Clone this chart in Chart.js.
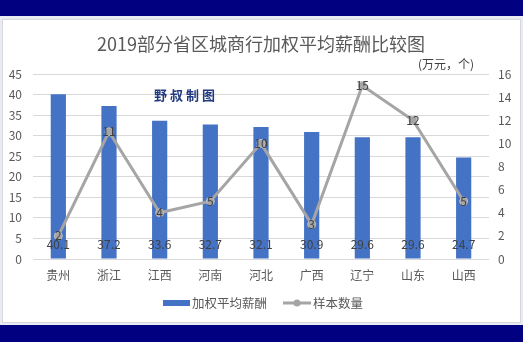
<!DOCTYPE html>
<html>
<head>
<meta charset="utf-8">
<script src="https://cdn.jsdelivr.net/npm/chart.js@4/dist/chart.umd.min.js"></script>
<style>
  html, body { margin: 0; padding: 0; background: #ffffff; }
  #wrap { width: 523px; height: 342px; position: relative; }
  canvas { display: block; }
</style>
</head>
<body>
<div id="wrap"><canvas id="c" width="523" height="342"></canvas></div>
<script>
// Provinces compared
const provinces = ['贵州', '浙江', '江西', '河南', '河北', '广西', '辽宁', '山东', '山西'];
// Weighted average pay (10k yuan)
const avgPay = [40.1, 37.2, 33.6, 32.7, 32.1, 30.9, 29.6, 29.6, 24.7];
// Number of banks sampled
const sampleCount = [2, 11, 4, 5, 10, 3, 15, 12, 5];

const leftTicks = { min: 0, max: 45, step: 5 };
const rightTicks = { min: 0, max: 16, step: 2 };

const titleText = '2019部分省区城商行加权平均薪酬比较图';
const unitText = '(万元，个)';
const creditText = '野叔制图';
const seriesNames = ['加权平均薪酬', '样本数量'];

const FONT = '"Noto Sans CJK SC", "Noto Sans", sans-serif';
const BAR_COLOR = '#4472C4';
const LINE_COLOR = '#A5A5A5';
const TEXT_COLOR = '#595959';
const NAVY = '#000080';

// Page frame: navy bands with a bordered white panel between them
const framePlugin = {
  id: 'frame',
  beforeDraw(chart) {
    const ctx = chart.ctx;
    const W = chart.width, H = chart.height;
    ctx.save();
    ctx.fillStyle = '#E9EBF2';
    ctx.fillRect(0, 0, W, H);
    ctx.fillStyle = NAVY;
    ctx.fillRect(0, 0, W, 16);
    ctx.fillRect(0, 325, W, H - 325);
    ctx.fillStyle = '#ffffff';
    ctx.fillRect(2, 19, W - 4, 304);
    ctx.strokeStyle = '#D6D8DE';
    ctx.lineWidth = 1;
    ctx.strokeRect(2.5, 19.5, W - 5, 303);
    ctx.restore();
  }
};

// Title, unit note, credit, value labels and legend
const textPlugin = {
  id: 'texts',
  afterDatasetsDraw(chart) {
    const ctx = chart.ctx;
    const area = chart.chartArea;
    ctx.save();

    ctx.fillStyle = TEXT_COLOR;
    ctx.textAlign = 'center';
    ctx.textBaseline = 'middle';
    ctx.font = '18px ' + FONT;
    ctx.fillText(titleText, (area.left + area.right) / 2, 44);

    ctx.font = '12px ' + FONT;
    ctx.textAlign = 'right';
    ctx.fillStyle = '#404040';
    ctx.fillText(unitText, 474, 64);

    ctx.textAlign = 'left';
    ctx.fillStyle = '#223A80';
    ctx.font = 'bold 13px ' + FONT;
    if ('letterSpacing' in ctx) ctx.letterSpacing = '3px';
    ctx.fillText(creditText, 154, 95);
    if ('letterSpacing' in ctx) ctx.letterSpacing = '0px';

    // bar value labels near the base of each bar
    ctx.font = '12px ' + FONT;
    ctx.textAlign = 'center';
    ctx.fillStyle = '#404040';
    const barMeta = chart.getDatasetMeta(0);
    barMeta.data.forEach((el, i) => {
      ctx.fillText(avgPay[i].toFixed(1), el.x, el.base - 14);
    });

    // sample-count labels centred on each point
    const lineMeta = chart.getDatasetMeta(1);
    ctx.fillStyle = '#404040';
    lineMeta.data.forEach((el, i) => {
      ctx.fillText(String(sampleCount[i]), el.x, el.y);
    });

    // legend
    const ly = 303;
    ctx.fillStyle = BAR_COLOR;
    ctx.fillRect(163, ly - 3, 27, 6);
    ctx.fillStyle = TEXT_COLOR;
    ctx.textAlign = 'left';
    ctx.font = '12.5px ' + FONT;
    ctx.fillText(seriesNames[0], 192, ly);
    ctx.strokeStyle = LINE_COLOR;
    ctx.lineWidth = 3;
    ctx.beginPath();
    ctx.moveTo(283, ly);
    ctx.lineTo(311, ly);
    ctx.stroke();
    ctx.fillStyle = LINE_COLOR;
    ctx.beginPath();
    ctx.arc(297, ly, 3.5, 0, Math.PI * 2);
    ctx.fill();
    ctx.fillStyle = TEXT_COLOR;
    ctx.fillText(seriesNames[1], 313, ly);

    ctx.restore();
  }
};

new Chart(document.getElementById('c'), {
  data: {
    labels: provinces,
    datasets: [
      {
        type: 'bar',
        label: seriesNames[0],
        data: avgPay,
        backgroundColor: BAR_COLOR,
        yAxisID: 'y',
        categoryPercentage: 1,
        barPercentage: 0.3,
        order: 2
      },
      {
        type: 'line',
        label: seriesNames[1],
        data: sampleCount,
        borderColor: LINE_COLOR,
        borderWidth: 3,
        backgroundColor: LINE_COLOR,
        pointRadius: 4,
        pointBackgroundColor: LINE_COLOR,
        pointBorderColor: '#BDBDBD',
        pointBorderWidth: 1,
        tension: 0,
        yAxisID: 'y1',
        order: 1
      }
    ]
  },
  options: {
    responsive: false,
    animation: false,
    devicePixelRatio: 1,
    layout: { padding: { top: 74, bottom: 51, left: 0, right: 0 } },
    plugins: {
      legend: { display: false },
      title: { display: false },
      tooltip: { enabled: false }
    },
    scales: {
      x: {
        grid: { display: false, drawTicks: false },
        border: { display: false },
        ticks: { color: TEXT_COLOR, font: { family: FONT, size: 12 }, padding: 9 },
        afterFit(s) { s.height = 32; }
      },
      y: {
        position: 'left',
        min: leftTicks.min,
        max: leftTicks.max,
        ticks: { stepSize: leftTicks.step, color: TEXT_COLOR, font: { family: FONT, size: 12 }, padding: 11 },
        grid: { color: '#D9D9D9', drawTicks: false },
        border: { display: false },
        afterFit(s) { s.width = 33; }
      },
      y1: {
        position: 'right',
        min: rightTicks.min,
        max: rightTicks.max,
        ticks: { stepSize: rightTicks.step, color: TEXT_COLOR, font: { family: FONT, size: 12 }, padding: 9 },
        grid: { display: false, drawTicks: false },
        border: { display: false },
        afterFit(s) { s.width = 34; }
      }
    }
  },
  plugins: [framePlugin, textPlugin]
});
</script>
</body>
</html>
